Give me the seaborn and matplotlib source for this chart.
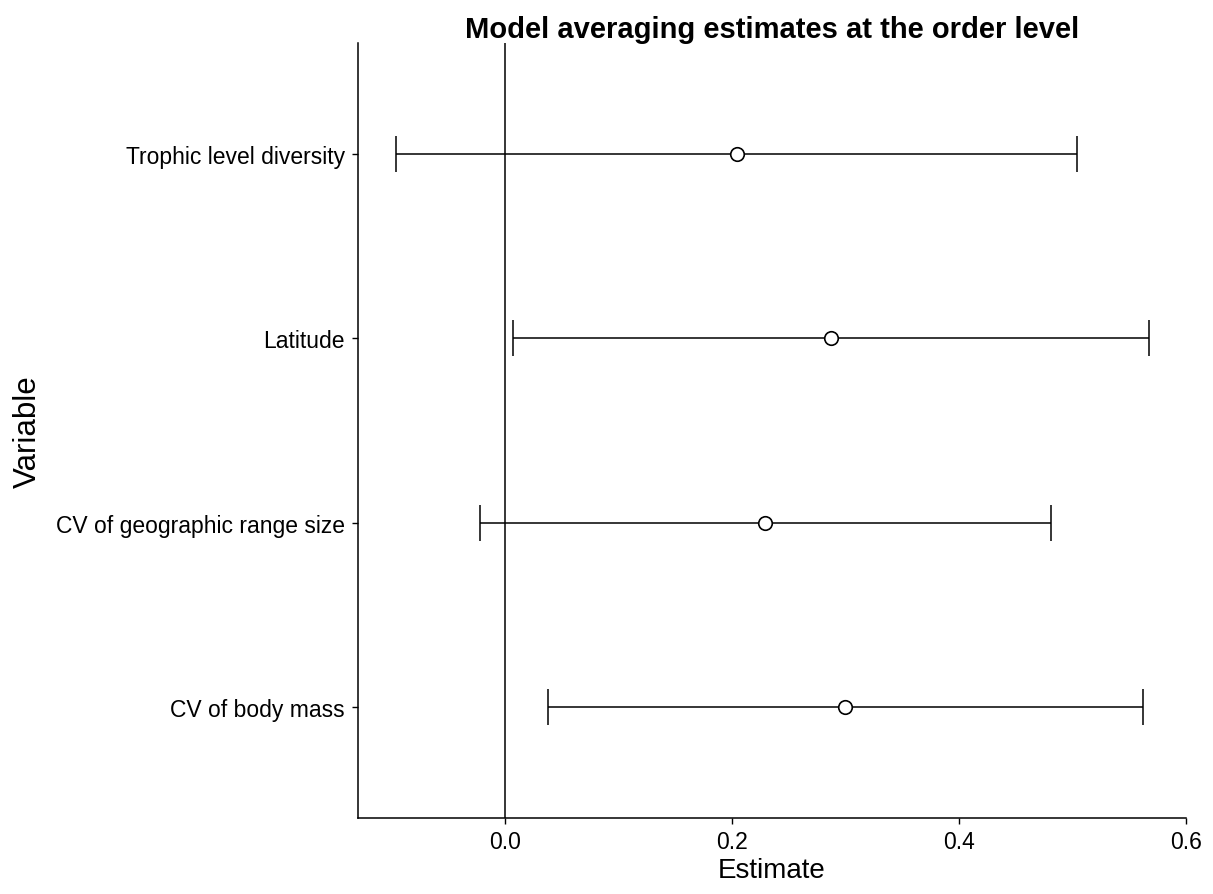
import matplotlib
matplotlib.use("Agg")
import matplotlib.pyplot as plt
import seaborn as sns
import pandas as pd
import numpy as np

variables = ["CV of body mass", "CV of geographic range size", "Latitude", "Trophic level diversity"]
estimates = [0.300, 0.229, 0.287, 0.204]
lower = [0.038, -0.022, 0.007, -0.096]
upper = [0.562, 0.481, 0.567, 0.504]
x_ticks = [0.0, 0.2, 0.4, 0.6]

df = pd.DataFrame({"Variable": variables, "Estimate": estimates,
                   "lo": lower, "hi": upper})
df["pos"] = np.arange(len(df))

sns.set_theme(style="white")
plt.rcParams['font.family'] = ['Liberation Sans', 'DejaVu Sans']

fig = plt.figure(figsize=(12.13, 8.95), dpi=100)
ax = fig.add_axes([358/1213, 1-819/895, (1186-358)/1213, (819-44)/895])

ax.axvline(0, color="black", lw=1.1, zorder=1)
ax.errorbar(df["Estimate"], df["pos"],
            xerr=[df["Estimate"] - df["lo"], df["hi"] - df["Estimate"]],
            fmt="none", ecolor="black", elinewidth=1.1, capsize=13, capthick=1.1, zorder=2)
sns.scatterplot(data=df, x="Estimate", y="pos", ax=ax, marker="o", s=95,
                facecolor="white", edgecolor="black", linewidth=1.2, zorder=3)

ax.set_xlim(-0.1295, 0.6)
ax.set_ylim(-0.6, 3.6)
ax.set_xticks(x_ticks)
ax.set_xticklabels([f"{t:.1f}" for t in x_ticks])
ax.set_yticks(df["pos"])
ax.set_yticklabels(df["Variable"])

for s in ["top", "right"]:
    ax.spines[s].set_visible(False)
for s in ["left", "bottom"]:
    ax.spines[s].set_color("black")
    ax.spines[s].set_linewidth(1.1)

ax.tick_params(axis="both", which="major", direction="out", length=4.5, width=1,
               color="black", labelsize=16.5, labelcolor="black", left=True, bottom=True)
ax.tick_params(axis="y", pad=5)
ax.tick_params(axis="x", pad=4)

ax.set_xlabel("Estimate", fontsize=20, color="black", labelpad=3)
ax.set_ylabel("Variable", fontsize=22.5, color="black", labelpad=9)
ax.set_title("Model averaging estimates at the order level", fontsize=21,
             fontweight="bold", color="black", pad=4)

fig.savefig("out.png", dpi=100)
